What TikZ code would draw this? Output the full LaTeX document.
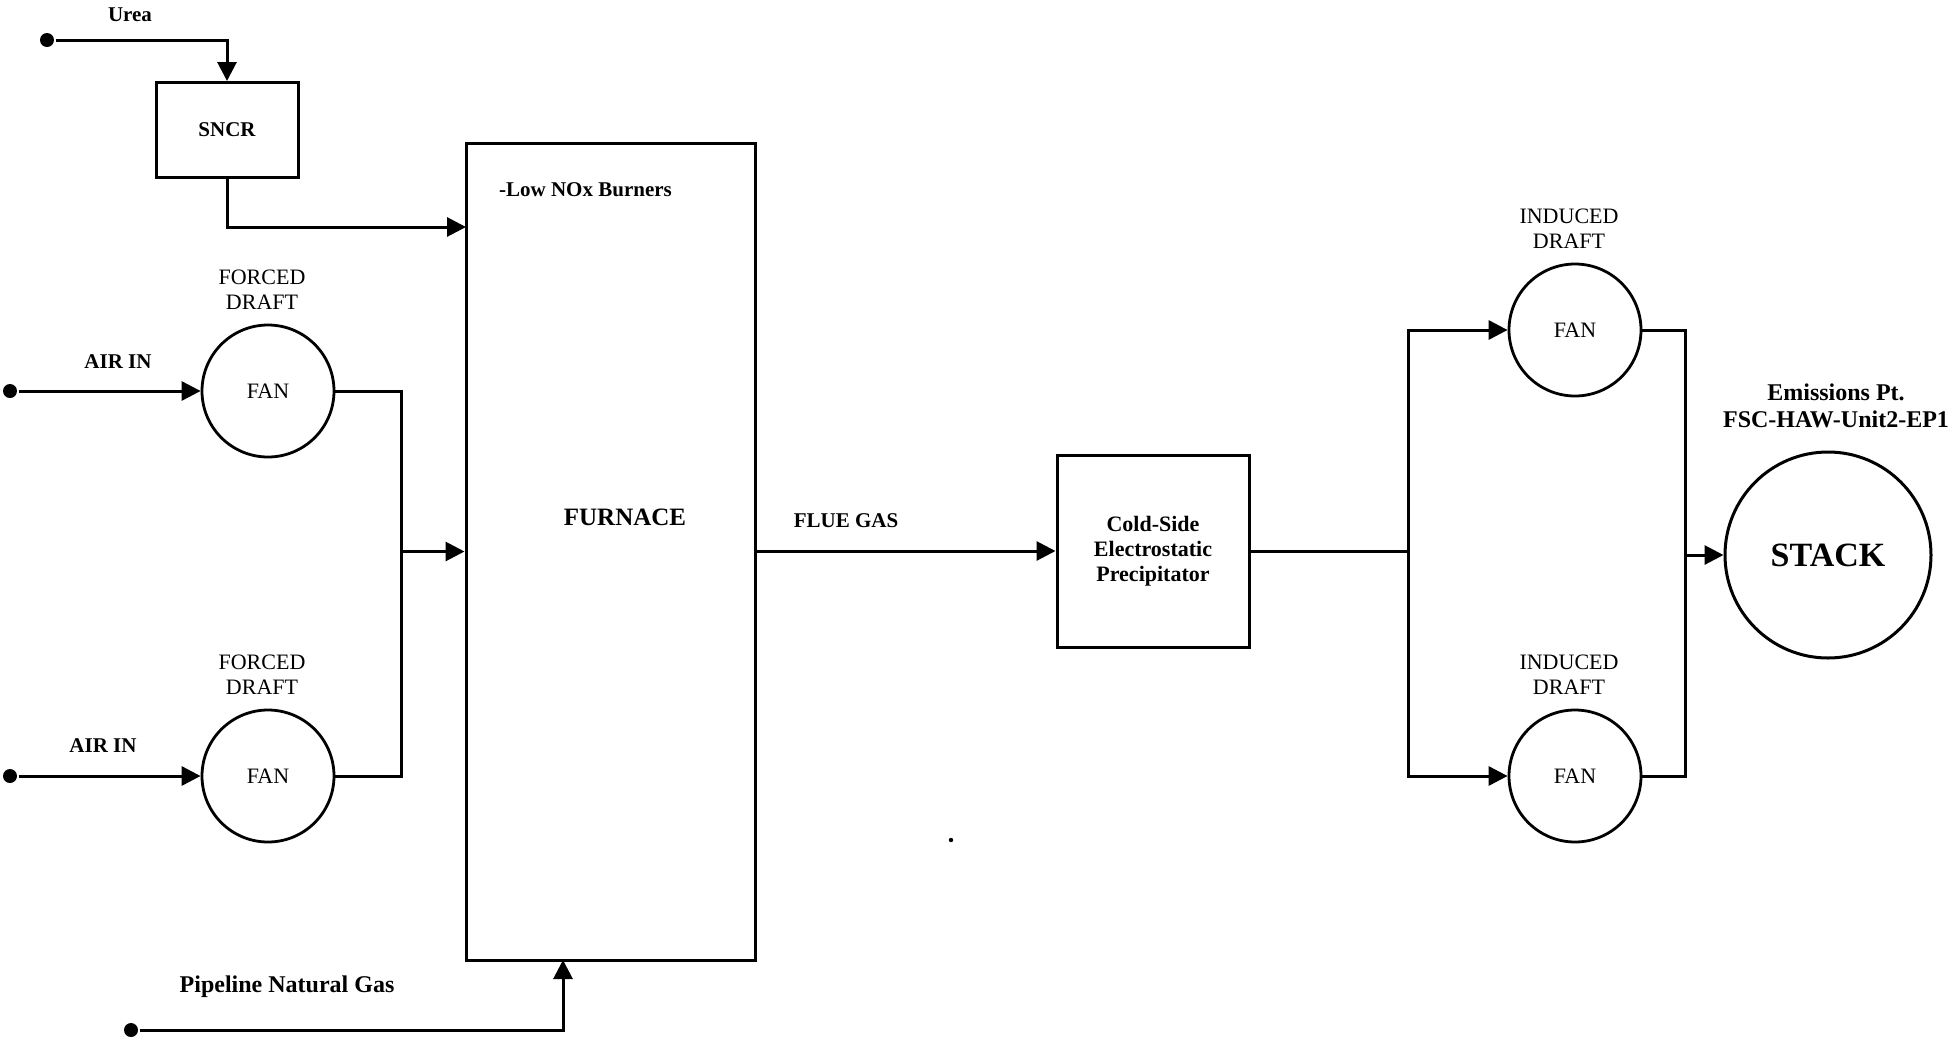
\documentclass[tikz,border=0pt]{standalone}
\usepackage{fontspec}
\setmainfont{Liberation Serif}
\usetikzlibrary{
arrows.meta,
positioning
}

\begin{document}
\begin{tikzpicture}[
x=0.5pt, y=-0.5pt,
line width=1.5pt,
node distance=3pt,
unit/.style={
rectangle,
draw,
line width=1.5pt,
align=center,
font=\bfseries\fontsize{10.5}{13}\selectfont
},
fan/.style={
circle,
draw,
line width=1.4pt,
minimum size=66pt,
font=\fontsize{11}{12}\selectfont
},
tag/.style={align=center, font=\fontsize{11}{12.5}\selectfont},
lbl/.style={font=\bfseries\fontsize{10.5}{12}\selectfont},
dot/.style={circle, fill, inner sep=0pt, minimum size=7pt},
arrow/.style={-{Triangle[length=9.5pt,width=9.5pt]}}
]
\useasboundingbox (0,0) rectangle (1954,1045);

% process units
\node[unit, minimum width=71pt, minimum height=47.5pt] (sncr) at (227,130) {SNCR};
\node[unit, minimum width=144.5pt, minimum height=408.5pt] (furnace) at (610.5,551.5) {};
\node[unit, minimum width=96pt, minimum height=96pt, font=\bfseries\fontsize{11}{12.5}\selectfont] (esp) at (1153,551)
{Cold-Side\\Electrostatic\\Precipitator};
\node[unit, circle, minimum size=103pt, font=\bfseries\fontsize{17}{20}\selectfont] (stack) at (1828,555) {STACK};

\node[lbl, anchor=west] (burners) at (491,190) {-Low NOx Burners};
\node[lbl, font=\bfseries\fontsize{12.5}{15}\selectfont] (furnacetxt) at (625,517) {FURNACE};

% fans
\node[fan] (fdfan1) at (268,391) {FAN};
\node[fan] (fdfan2) at (268,776) {FAN};
\node[fan] (idfan1) at (1575,330) {FAN};
\node[fan] (idfan2) at (1575,776) {FAN};

\node[tag, above=of fdfan1, xshift=-3pt] (fdtag1) {FORCED\\DRAFT};
\node[tag, above=of fdfan2, xshift=-3pt] (fdtag2) {FORCED\\DRAFT};
\node[tag, above=of idfan1, xshift=-3pt] (idtag1) {INDUCED\\DRAFT};
\node[tag, above=of idfan2, xshift=-3pt] (idtag2) {INDUCED\\DRAFT};

% feed points
\node[dot] (ureadot) at (47,40) {};
\node[dot] (airdot1) at (10,391) {};
\node[dot] (airdot2) at (10,776) {};
\node[dot] (gasdot) at (131,1030) {};

\node[lbl] (urea) at (130,15) {Urea};
\node[lbl] (air1) at (118,362) {AIR IN};
\node[lbl] (air2) at (103,746) {AIR IN};
\node[lbl, font=\bfseries\fontsize{12}{14}\selectfont] (gas) at (287,987) {Pipeline Natural Gas};
\node[lbl] (flue) at (846,521) {FLUE GAS};
\node[lbl, align=center, font=\bfseries\fontsize{12}{13.5}\selectfont] (ept) at (1836,406)
{Emissions Pt.\\FSC-HAW-Unit2-EP1};

\coordinate (burnerin) at (466,227);
\coordinate (fdjoin) at (401,551.5);
\coordinate (gasin) at (563,960);
\coordinate (idsplit) at (1408,551);
\coordinate (idjoin) at (1685,555);

% connectors
\draw[arrow] (ureadot) -| (sncr.north);
\draw[arrow] (sncr.south) |- (burnerin);
\draw[arrow] (airdot1) -- (fdfan1.west);
\draw[arrow] (airdot2) -- (fdfan2.west);
\draw (fdfan1.east) -| (fdjoin);
\draw (fdfan2.east) -| (fdjoin);
\draw[arrow] (fdjoin) -- (furnace.west |- fdjoin);
\draw[arrow] (gasdot) -| (gasin);
\draw[arrow] (furnace.east |- esp.west) -- (esp.west);
\draw (esp.east) -- (idsplit);
\draw[arrow] (idsplit) |- (idfan1.west);
\draw[arrow] (idsplit) |- (idfan2.west);
\draw (idfan1.east) -| (idjoin);
\draw (idfan2.east) -| (idjoin);
\draw[arrow] (idjoin) -- (stack.west);

\fill (951,840) circle (1.1pt);

\end{tikzpicture}
\end{document}
